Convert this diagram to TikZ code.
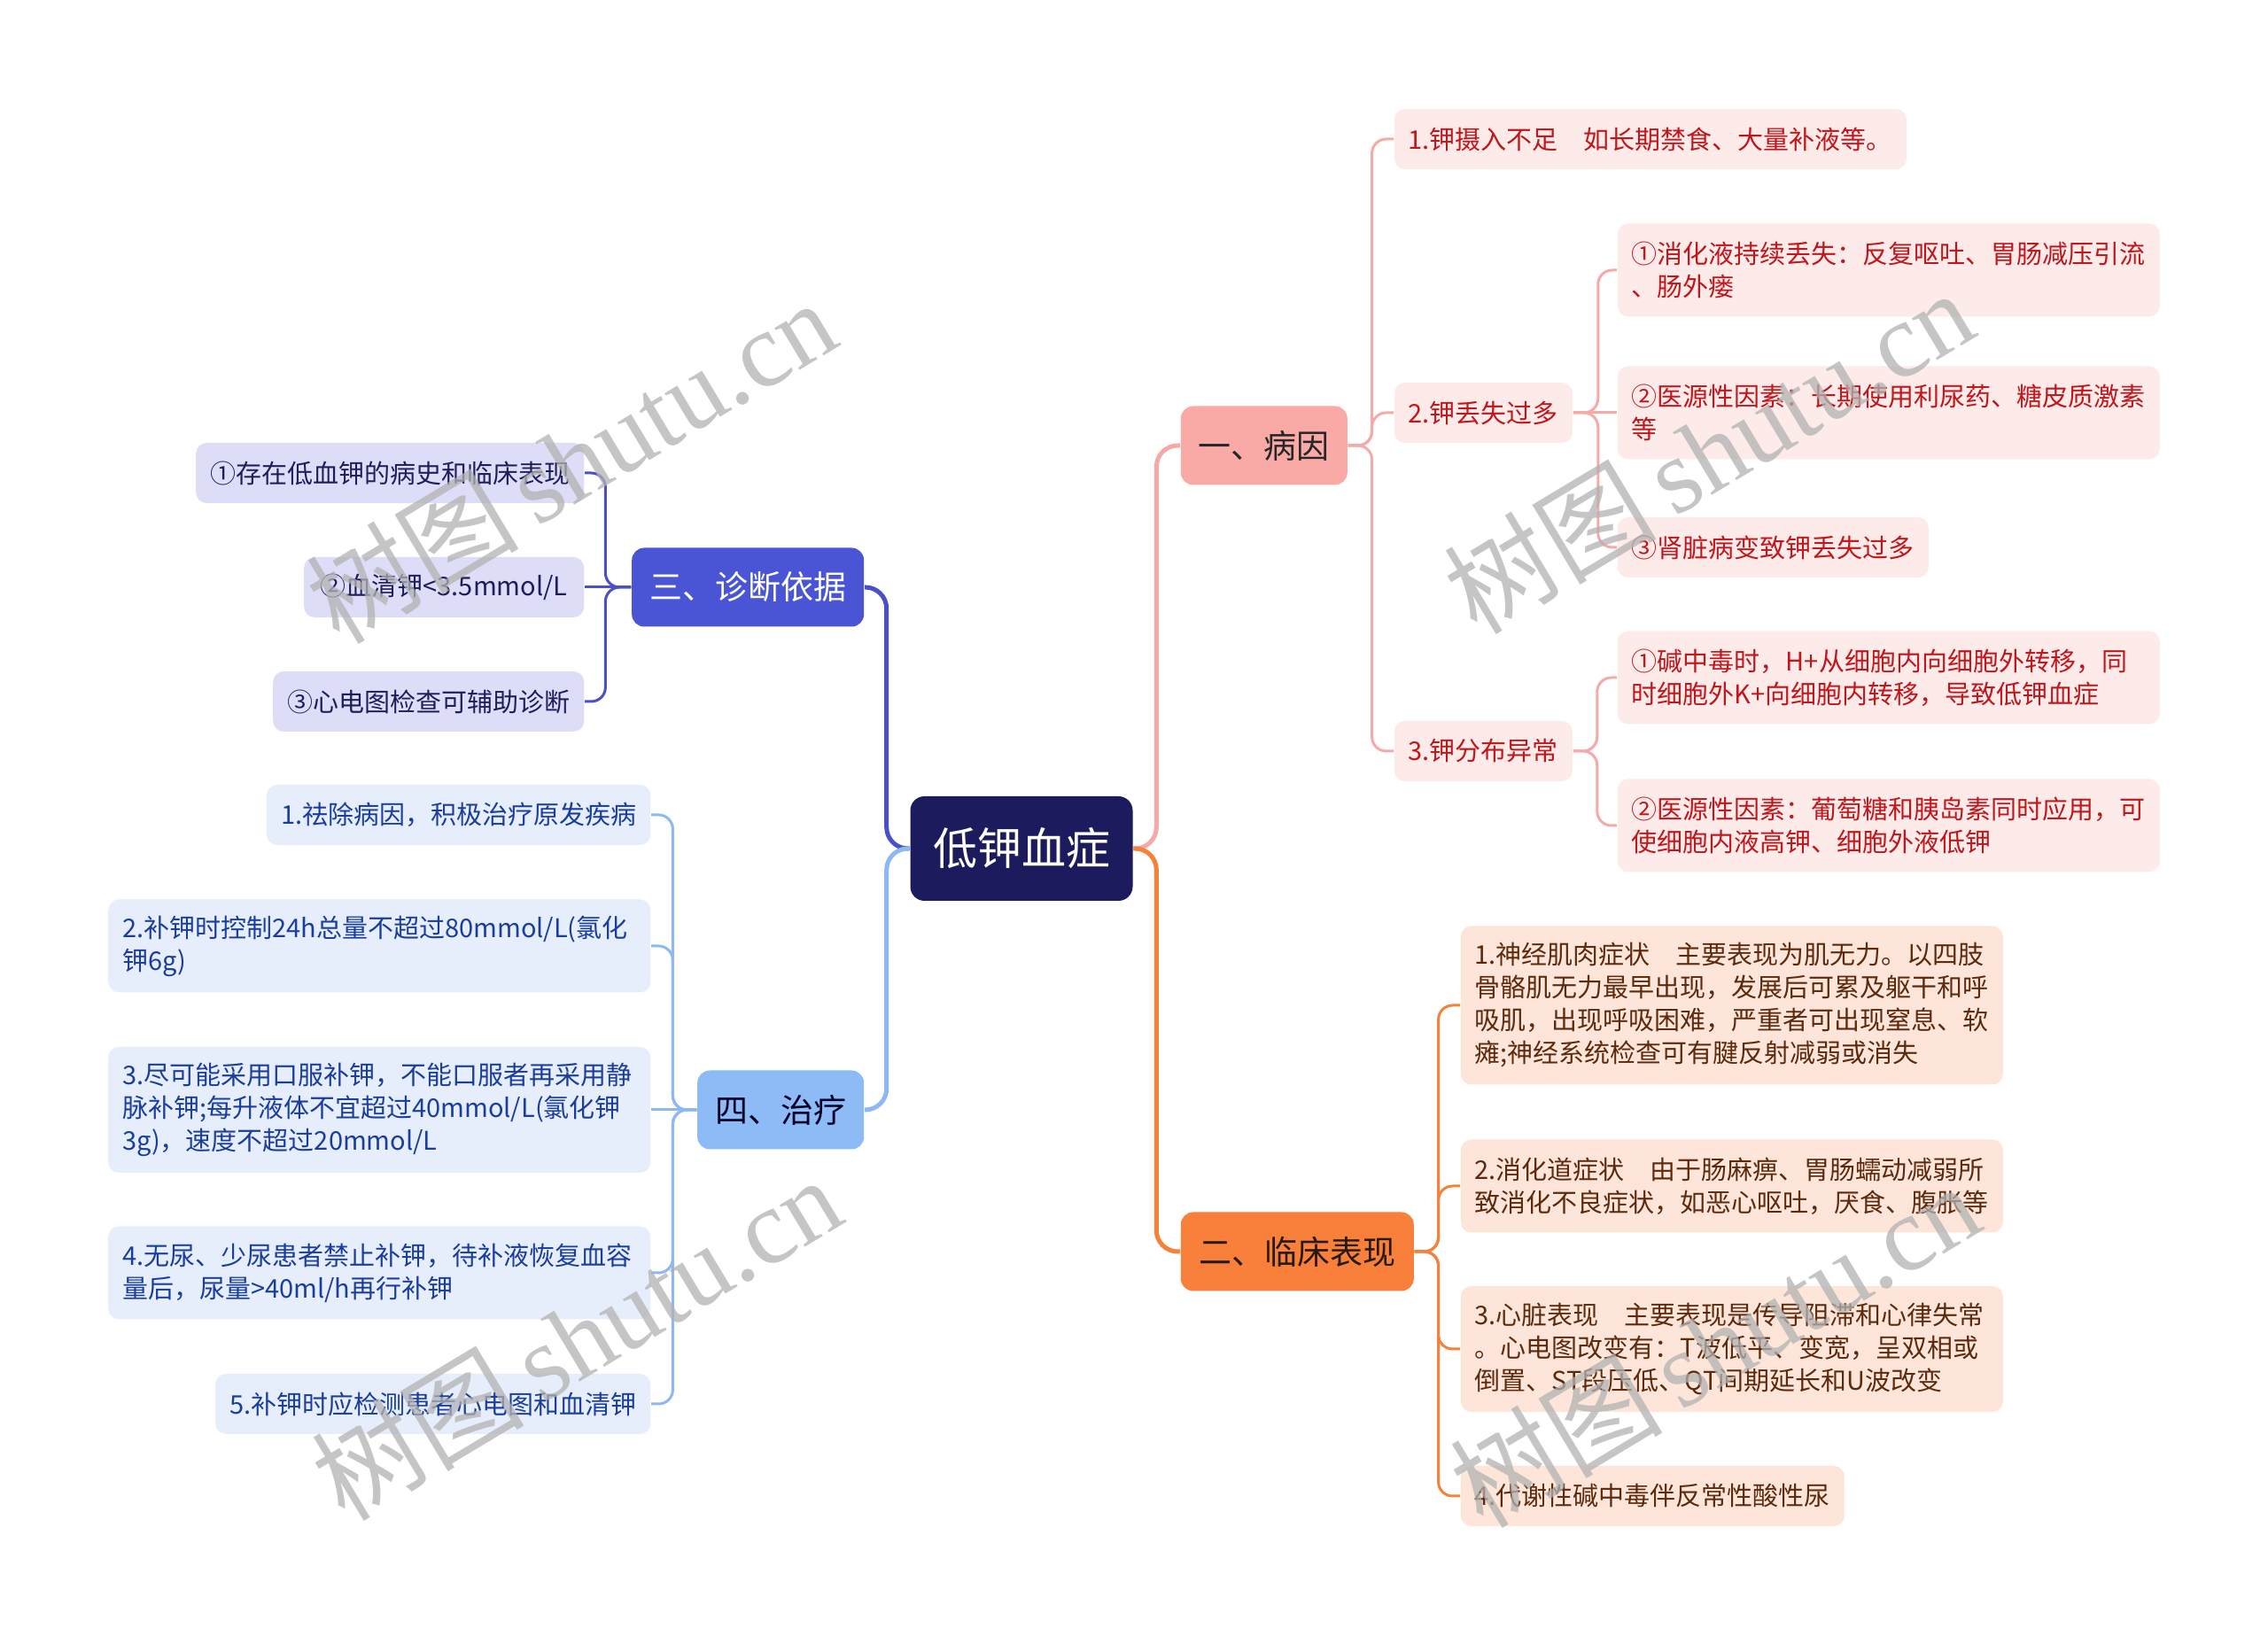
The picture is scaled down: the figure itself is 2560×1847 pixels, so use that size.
\documentclass[tikz,border=0pt]{standalone}
\usepackage{fontspec}
\setmainfont{Noto Sans CJK SC}
\newfontfamily\wmfont{Liberation Serif}

\definecolor{hubc}{HTML}{1C1B5E}
\definecolor{rline}{HTML}{F5AAA8}
\definecolor{rbox}{HTML}{F9AAA7}
\definecolor{rleaf}{HTML}{FDEBEA}
\definecolor{rtext}{HTML}{C0161C}
\definecolor{oline}{HTML}{F5813A}
\definecolor{obox}{HTML}{F8803A}
\definecolor{oleaf}{HTML}{FDE6D9}
\definecolor{otext}{HTML}{5C2A0E}
\definecolor{bline}{HTML}{4B50C6}
\definecolor{bbox}{HTML}{4A55D6}
\definecolor{bleaf}{HTML}{DDDDF8}
\definecolor{btext}{HTML}{1E1E5A}
\definecolor{lline}{HTML}{8DB8F4}
\definecolor{lbox}{HTML}{8DBBF6}
\definecolor{lleaf}{HTML}{E6EEFC}
\definecolor{ltext}{HTML}{1B3D9E}

\begin{document}
\begin{tikzpicture}[
	x=0.25pt, y=-0.25pt,
	hub/.style={ fill=hubc, text=white, rounded corners=4pt, inner sep=0pt, minimum width=62.75pt, minimum height=29.5pt, font=\fontsize{12.5pt}{14pt}\selectfont },
	topic/.style={ rounded corners=3.5pt, inner sep=0pt, minimum height=22.25pt, font=\fontsize{9.25pt}{11pt}\selectfont },
	topicr/.style={ topic, fill=rbox, text=black!85 },
	topico/.style={ topic, fill=obox, text=black!80!brown },
	topicb/.style={ topic, fill=bbox, text=white },
	topicl/.style={ topic, fill=lbox, text=black!85!blue },
	leaf/.style={ rounded corners=3pt, inner xsep=4pt, inner ysep=2pt, align=left, font=\fontsize{7.25pt}{9.25pt}\selectfont },
	leafr/.style={ leaf, fill=rleaf, text=rtext },
	leafo/.style={ leaf, fill=oleaf, text=otext },
	leafb/.style={ leaf, fill=bleaf, text=btext },
	leafl/.style={ leaf, fill=lleaf, text=ltext },
	wide/.style={ text width=145pt },
	h1/.style={ minimum height=17pt }, h2/.style={ minimum height=26.25pt },
	h3/.style={ minimum height=35.5pt }, h4/.style={ minimum height=44.75pt },
	branch/.style={ line width=1.25pt, rounded corners=6pt },
	twig/.style={ line width=0.75pt, rounded corners=4pt },
	wmark/.style={ rotate=31, text=black!30, text opacity=0.75, font=\fontsize{30pt}{30pt}\selectfont }
]
\useasboundingbox (0,0) rectangle (2560,1847);
\fill[white] (0,0) rectangle (2560,1847);

\node at (1153,958) (hub) [hub] {低钾血症};
\node at (1332,503) (cause) [topicr,anchor=west,minimum width=47pt] {一、病因};
\node at (1332,1413) (sign) [topico,anchor=west,minimum width=65.75pt] {二、临床表现};
\node at (976,663) (diag) [topicb,anchor=east,minimum width=65.5pt] {三、诊断依据};
\node at (976,1253) (treat) [topicl,anchor=east,minimum width=47pt] {四、治疗};

% causes
\node at (1573,157) (cone) [leafr,h1,anchor=west,minimum width=143.75pt] {1.钾摄入不足　如长期禁食、大量补液等。};
\node at (1573,466) (ctwo) [leafr,h1,anchor=west,minimum width=49.5pt] {2.钾丢失过多};
\node at (1573,848) (cthree) [leafr,h1,anchor=west,minimum width=49.5pt] {3.钾分布异常};
\node at (1825,305) (ctwoa) [leafr,h2,wide,anchor=west] {①消化液持续丢失：反复呕吐、胃肠减压引流\\、肠外瘘};
\node at (1825,466) (ctwob) [leafr,h2,wide,anchor=west] {②医源性因素：长期使用利尿药、糖皮质激素\\等};
\node at (1825,618) (ctwoc) [leafr,h1,anchor=west,minimum width=87.5pt] {③肾脏病变致钾丢失过多};
\node at (1825,765) (cthreea) [leafr,h2,wide,anchor=west] {①碱中毒时，H+从细胞内向细胞外转移，同\\时细胞外K+向细胞内转移，导致低钾血症};
\node at (1825,932) (cthreeb) [leafr,h2,wide,anchor=west] {②医源性因素：葡萄糖和胰岛素同时应用，可\\使细胞内液高钾、细胞外液低钾};

% signs
\node at (1648,1135) (sone) [leafo,h4,wide,anchor=west] {1.神经肌肉症状　主要表现为肌无力。以四肢\\骨骼肌无力最早出现，发展后可累及躯干和呼\\吸肌，出现呼吸困难，严重者可出现窒息、软\\瘫;神经系统检查可有腱反射减弱或消失};
\node at (1648,1339) (stwo) [leafo,h2,wide,anchor=west] {2.消化道症状　由于肠麻痹、胃肠蠕动减弱所\\致消化不良症状，如恶心呕吐，厌食、腹胀等};
\node at (1648,1523) (sthree) [leafo,h3,wide,anchor=west] {3.心脏表现　主要表现是传导阻滞和心律失常\\。心电图改变有：T波低平、变宽，呈双相或\\倒置、ST段压低、QT间期延长和U波改变};
\node at (1648,1689) (sfour) [leafo,h1,anchor=west,minimum width=107.75pt] {4.代谢性碱中毒伴反常性酸性尿};

% diagnosis
\node at (660,534) (done) [leafb,h1,anchor=east,minimum width=109pt] {①存在低血钾的病史和临床表现};
\node at (660,663) (dtwo) [leafb,h1,anchor=east,minimum width=79pt] {②血清钾<3.5mmol/L};
\node at (660,792) (dthree) [leafb,h1,anchor=east,minimum width=87.25pt] {③心电图检查可辅助诊断};

% treatment
\node at (735,920) (tone) [leafl,h1,anchor=east,minimum width=108pt] {1.祛除病因，积极治疗原发疾病};
\node at (735,1068) (ttwo) [leafl,h2,wide,anchor=east] {2.补钾时控制24h总量不超过80mmol/L(氯化\\钾6g)};
\node at (735,1253) (tthree) [leafl,h3,wide,anchor=east] {3.尽可能采用口服补钾，不能口服者再采用静\\脉补钾;每升液体不宜超过40mmol/L(氯化钾\\3g)，速度不超过20mmol/L};
\node at (735,1437) (tfour) [leafl,h2,wide,anchor=east] {4.无尿、少尿患者禁止补钾，待补液恢复血容\\量后，尿量>40ml/h再行补钾};
\node at (735,1585) (tfive) [leafl,h1,anchor=east,minimum width=122.5pt] {5.补钾时应检测患者心电图和血清钾};

\draw[branch,rline] (hub.east) -- ++(26,0) |- (cause.west);
\draw[branch,oline] (hub.east) -- ++(26,0) |- (sign.west);
\draw[branch,bline] (hub.west) -- ++(-26,0) |- (diag.east);
\draw[branch,lline] (hub.west) -- ++(-26,0) |- (treat.east);

\draw[twig,rline] (cause.east) -- ++(27,0) |- (cone.west);
\draw[twig,rline] (cause.east) -- ++(27,0) |- (ctwo.west);
\draw[twig,rline] (cause.east) -- ++(27,0) |- (cthree.west);
\draw[twig,rline] (ctwo.east) -- ++(28,0) |- (ctwoa.west);
\draw[twig,rline] (ctwo.east) -- (ctwob.west);
\draw[twig,rline] (ctwo.east) -- ++(28,0) |- (ctwoc.west);
\draw[twig,rline] (cthree.east) -- ++(27,0) |- (cthreea.west);
\draw[twig,rline] (cthree.east) -- ++(27,0) |- (cthreeb.west);

\draw[twig,oline] (sign.east) -- ++(27,0) |- (sone.west);
\draw[twig,oline] (sign.east) -- ++(27,0) |- (stwo.west);
\draw[twig,oline] (sign.east) -- ++(27,0) |- (sthree.west);
\draw[twig,oline] (sign.east) -- ++(27,0) |- (sfour.west);

\draw[twig,bline] (diag.west) -- ++(-29,0) |- (done.east);
\draw[twig,bline] (diag.west) -- (dtwo.east);
\draw[twig,bline] (diag.west) -- ++(-29,0) |- (dthree.east);

\draw[twig,lline] (treat.west) -- ++(-27,0) |- (tone.east);
\draw[twig,lline] (treat.west) -- ++(-27,0) |- (ttwo.east);
\draw[twig,lline] (treat.west) -- (tthree.east);
\draw[twig,lline] (treat.west) -- ++(-27,0) |- (tfour.east);
\draw[twig,lline] (treat.west) -- ++(-27,0) |- (tfive.east);

% watermarks
\node at (644,520) (wmone) [wmark] {树图\,{\wmfont shutu.cn}};
\node at (1928,509) (wmtwo) [wmark] {树图\,{\wmfont shutu.cn}};
\node at (650,1510) (wmthree) [wmark] {树图\,{\wmfont shutu.cn}};
\node at (1935,1518) (wmfour) [wmark] {树图\,{\wmfont shutu.cn}};

\end{tikzpicture}
\end{document}
